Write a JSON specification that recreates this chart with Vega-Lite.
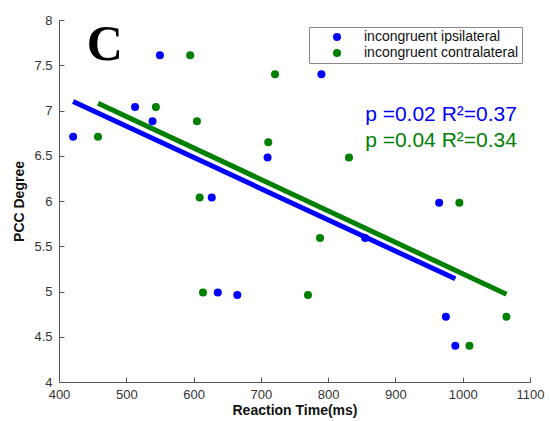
{
  "$schema": "https://vega.github.io/schema/vega-lite/v6.json",
  "width": 471,
  "height": 362,
  "autosize": {"type": "none"},
  "padding": {"left": 59, "top": 20, "right": 20, "bottom": 39},
  "background": "white",
  "config": {
    "view": {"stroke": null},
    "font": "Liberation Sans",
    "axis": {"grid": false, "domainColor": "#555", "tickColor": "#555", "labelColor": "#333", "labelFontSize": 13, "titleFontSize": 14, "titleFontWeight": "bold", "titleColor": "#111", "tickSize": -5, "labelPadding": 8, "labelFlush": false}
  },
  "datasets": {
    "pts": [
      {"rt": 421, "pcc": 6.71, "group": "incongruent ipsilateral"},
      {"rt": 550, "pcc": 7.61, "group": "incongruent ipsilateral"},
      {"rt": 513, "pcc": 7.04, "group": "incongruent ipsilateral"},
      {"rt": 539, "pcc": 6.88, "group": "incongruent ipsilateral"},
      {"rt": 710, "pcc": 6.48, "group": "incongruent ipsilateral"},
      {"rt": 627, "pcc": 6.04, "group": "incongruent ipsilateral"},
      {"rt": 790, "pcc": 7.4, "group": "incongruent ipsilateral"},
      {"rt": 636, "pcc": 4.99, "group": "incongruent ipsilateral"},
      {"rt": 665, "pcc": 4.96, "group": "incongruent ipsilateral"},
      {"rt": 965, "pcc": 5.98, "group": "incongruent ipsilateral"},
      {"rt": 855, "pcc": 5.59, "group": "incongruent ipsilateral"},
      {"rt": 975, "pcc": 4.72, "group": "incongruent ipsilateral"},
      {"rt": 989, "pcc": 4.4, "group": "incongruent ipsilateral"},
      {"rt": 458, "pcc": 6.71, "group": "incongruent contralateral"},
      {"rt": 595, "pcc": 7.61, "group": "incongruent contralateral"},
      {"rt": 544, "pcc": 7.04, "group": "incongruent contralateral"},
      {"rt": 605, "pcc": 6.88, "group": "incongruent contralateral"},
      {"rt": 721, "pcc": 7.4, "group": "incongruent contralateral"},
      {"rt": 711, "pcc": 6.65, "group": "incongruent contralateral"},
      {"rt": 609, "pcc": 6.04, "group": "incongruent contralateral"},
      {"rt": 831, "pcc": 6.48, "group": "incongruent contralateral"},
      {"rt": 614, "pcc": 4.99, "group": "incongruent contralateral"},
      {"rt": 995, "pcc": 5.98, "group": "incongruent contralateral"},
      {"rt": 788, "pcc": 5.59, "group": "incongruent contralateral"},
      {"rt": 770, "pcc": 4.96, "group": "incongruent contralateral"},
      {"rt": 1065, "pcc": 4.72, "group": "incongruent contralateral"},
      {"rt": 1010, "pcc": 4.4, "group": "incongruent contralateral"}
    ],
    "fits": [
      {"rt": 421, "pcc": 7.1, "group": "incongruent ipsilateral"},
      {"rt": 989, "pcc": 5.14, "group": "incongruent ipsilateral"},
      {"rt": 458, "pcc": 7.08, "group": "incongruent contralateral"},
      {"rt": 1065, "pcc": 4.97, "group": "incongruent contralateral"}
    ],
    "notes": [
      {"rt": 855, "pcc": 6.95, "label": "p =0.02 R²=0.37", "group": "incongruent ipsilateral"},
      {"rt": 855, "pcc": 6.66, "label": "p =0.04 R²=0.34", "group": "incongruent contralateral"}
    ],
    "panel": [
      {"rt": 468, "pcc": 7.72, "label": "C"}
    ]
  },
  "layer": [
    {
      "data": {"name": "fits"},
      "mark": {"type": "line", "strokeWidth": 5},
      "encoding": {
        "x": {"field": "rt", "type": "quantitative", "scale": {"domain": [400, 1100], "nice": false}, "axis": {"values": [400,500,600,700,800,900,1000,1100], "format": "d", "title": "Reaction Time(ms)", "titlePadding": 2, "labelPadding": 11}},
        "y": {"field": "pcc", "type": "quantitative", "scale": {"domain": [4, 8], "nice": false, "zero": false}, "axis": {"values": [4,4.5,5,5.5,6,6.5,7,7.5,8], "format": "~g", "title": "PCC Degree", "titlePadding": 7, "labelPadding": 12}},
        "color": {"field": "group", "type": "nominal", "scale": {"domain": ["incongruent ipsilateral", "incongruent contralateral"], "range": ["#0000ff", "#008000"]}, "legend": {"title": null, "orient": "none", "legendX": 250, "legendY": 7, "labelFontSize": 14, "labelColor": "#111", "strokeColor": "#888", "fillColor": "white", "padding": 3, "symbolSize": 64, "symbolType": "circle", "symbolStrokeWidth": 0, "labelOffset": 20, "rowPadding": 2, "symbolOffset": 18, "labelLimit": 300}},
        "detail": {"field": "group"}
      }
    },
    {
      "data": {"name": "pts"},
      "mark": {"type": "point", "filled": true, "opacity": 1, "size": 64},
      "encoding": {
        "x": {"field": "rt", "type": "quantitative"},
        "y": {"field": "pcc", "type": "quantitative"},
        "color": {"field": "group", "type": "nominal"}
      }
    },
    {
      "data": {"name": "notes"},
      "mark": {"type": "text", "align": "left", "baseline": "middle", "fontSize": 21},
      "encoding": {
        "x": {"field": "rt", "type": "quantitative"},
        "y": {"field": "pcc", "type": "quantitative"},
        "text": {"field": "label"},
        "color": {"field": "group", "type": "nominal"}
      }
    },
    {
      "data": {"name": "panel"},
      "mark": {"type": "text", "align": "center", "baseline": "middle", "fontSize": 50, "font": "Liberation Serif", "fontWeight": "bold", "color": "black"},
      "encoding": {
        "x": {"field": "rt", "type": "quantitative"},
        "y": {"field": "pcc", "type": "quantitative"},
        "text": {"field": "label"}
      }
    }
  ]
}
